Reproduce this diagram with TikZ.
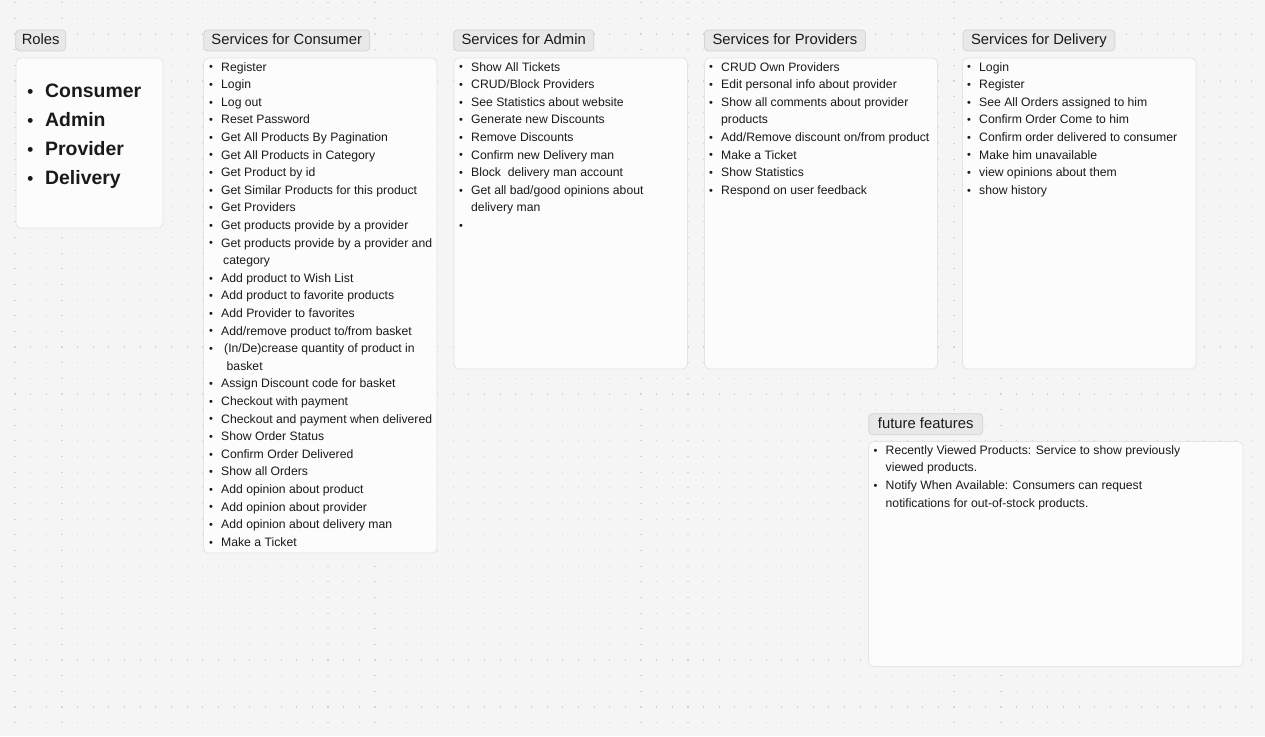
\documentclass[tikz,border=0pt]{standalone}
\usepackage{fontspec}
\setmainfont{Liberation Sans}
\setlength{\parskip}{0pt}
\setlength{\parindent}{0pt}
\definecolor{bgc}{HTML}{F5F5F5}
\definecolor{dotc}{HTML}{D4D4D4}
\definecolor{cardfill}{HTML}{FCFCFC}
\definecolor{carddraw}{HTML}{E4E4E4}
\definecolor{tagfill}{HTML}{E8E8E8}
\definecolor{tagdraw}{HTML}{D2D2D2}
\definecolor{ink}{HTML}{1A1A1A}
\newcommand\bulletmark{\makebox[13pt][l]{\hspace{1pt}{\fontsize{11}{11}\selectfont\raisebox{0.2pt}{•}}}}
\newcommand\li[1]{\noindent\bulletmark#1\par}
\newcommand\lc[2][13pt]{\noindent\hspace*{#1}#2\par}
\newcommand\bigli[1]{\noindent\makebox[19pt][l]{\hspace{1.2pt}{\fontsize{17}{17}\selectfont\raisebox{0.3pt}{•}}}#1\par}
\tikzset{
  card/.style={draw=carddraw, fill=cardfill, line width=0.8pt, rounded corners=5pt},
  tag/.style={draw=tagdraw, fill=tagfill, line width=0.8pt, rounded corners=4pt, anchor=north west,
    inner sep=0pt, minimum height=21pt, text height=11pt, text depth=3.2pt, text=ink,
    font=\fontsize{14.8}{17}\selectfont},
  listtext/.style={anchor=base west, inner sep=0pt, text=ink, font=\fontsize{12.2}{17.6}\selectfont},
  rolestext/.style={anchor=base west, inner sep=0pt, text=ink, font=\fontsize{19.4}{29}\selectfont\bfseries}
}
\begin{document}
\begin{tikzpicture}[x=1pt, y=-1pt]
\useasboundingbox (0,0) rectangle (1265,736);
\fill[bgc] (0,0) rectangle (1265,736);
% dotted grid
\foreach \i in {0,...,80} {
  \foreach \j in {0,...,46} {
    \fill[dotc] ({-0.65+15.65*\i-0.55},{2.7+15.65*\j-0.55}) rectangle ++(1.1,1.1);
  }
}
% cards
\draw[card] (16,58) rectangle (163,228);
\draw[card] (203.5,58) rectangle (437,553);
\draw[card] (454,58) rectangle (687.5,369);
\draw[card] (704.5,58) rectangle (937.5,369);
\draw[card] (962.5,58) rectangle (1196,369);
\draw[card] (868.5,441.5) rectangle (1243,666.5);
% tags
\node[tag, minimum width=50pt] (rolestag) at (15.3,29.5) {Roles};
\node[tag, minimum width=166pt] (consumertag) at (203.3,29.5) {Services for Consumer};
\node[tag, minimum width=140pt] (admintag) at (453.3,29.5) {Services for Admin};
\node[tag, minimum width=161pt] (providertag) at (704,29.5) {Services for Providers};
\node[tag, minimum width=152pt] (deliverytag) at (962.5,29.5) {Services for Delivery};
\node[tag, minimum width=114pt] (futuretag) at (868.3,413.3) {future features};
% roles
\node[rolestext] (roleslist) at (26,97.5) {\begin{minipage}[t]{130pt}
\bigli{Consumer}
\bigli{Admin}
\bigli{Provider}
\bigli{Delivery}
\end{minipage}};
% consumer
\node[listtext] (consumerlist) at (208,71) {\begin{minipage}[t]{228pt}
\li{Register}
\li{Login}
\li{Log out}
\li{Reset Password}
\li{Get All Products By Pagination}
\li{Get All Products in Category}
\li{Get Product by id}
\li{Get Similar Products for this product}
\li{Get Providers}
\li{Get products provide by a provider}
\li{Get products provide by a provider and}
\lc[15pt]{category}
\li{Add product to Wish List}
\li{Add product to favorite products}
\li{Add Provider to favorites}
\li{Add/remove product to/from basket}
\li{\hspace{3pt}(In/De)crease quantity of product in}
\lc[18.5pt]{basket}
\li{Assign Discount code for basket}
\li{Checkout with payment}
\li{Checkout and payment when delivered}
\li{Show Order Status}
\li{Confirm Order Delivered}
\li{Show all Orders}
\li{Add opinion about product}
\li{Add opinion about provider}
\li{Add opinion about delivery man}
\li{Make a Ticket}
\end{minipage}};
% admin
\node[listtext] (adminlist) at (458,71) {\begin{minipage}[t]{228pt}
\li{Show All Tickets}
\li{CRUD/Block Providers}
\li{See Statistics about website}
\li{Generate new Discounts}
\li{Remove Discounts}
\li{Confirm new Delivery man}
\li{Block\ \ delivery man account}
\li{Get all bad/good opinions about}
\lc{delivery man}
\li{}
\end{minipage}};
% providers
\node[listtext] (providerlist) at (708,71) {\begin{minipage}[t]{228pt}
\li{CRUD Own Providers}
\li{Edit personal info about provider}
\li{Show all comments about provider}
\lc{products}
\li{Add/Remove discount on/from product}
\li{Make a Ticket}
\li{Show Statistics}
\li{Respond on user feedback}
\end{minipage}};
% delivery
\node[listtext] (deliverylist) at (966,71) {\begin{minipage}[t]{228pt}
\li{Login}
\li{Register}
\li{See All Orders assigned to him}
\li{Confirm Order Come to him}
\li{Confirm order delivered to consumer}
\li{Make him unavailable}
\li{view opinions about them}
\li{show history}
\end{minipage}};
% future
\node[listtext] (futurelist) at (872.5,454.3) {\begin{minipage}[t]{360pt}
\li{Recently Viewed Products: Service to show previously}
\lc{viewed products.}
\li{Notify When Available: Consumers can request}
\lc{notifications for out-of-stock products.}
\end{minipage}};
\end{tikzpicture}
\end{document}
